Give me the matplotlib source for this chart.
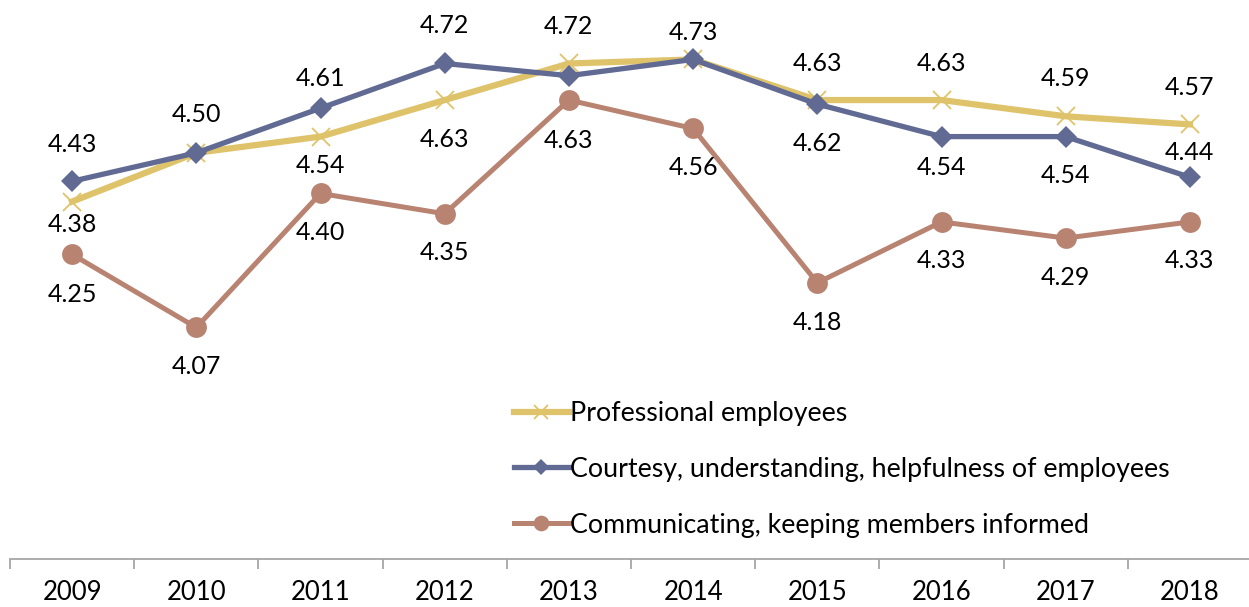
import matplotlib
matplotlib.use("Agg")
import matplotlib.pyplot as plt

plt.rcParams["font.family"] = ["Lato", "DejaVu Sans"]

years = ["2009", "2010", "2011", "2012", "2013", "2014", "2015", "2016", "2017", "2018"]
professional = [4.38, 4.50, 4.54, 4.63, 4.72, 4.73, 4.63, 4.63, 4.59, 4.57]
courtesy = [4.43, 4.50, 4.61, 4.72, 4.69, 4.73, 4.62, 4.54, 4.54, 4.44]
communicating = [4.25, 4.07, 4.40, 4.35, 4.63, 4.56, 4.18, 4.33, 4.29, 4.33]

names = [
    "Professional employees",
    "Courtesy, understanding, helpfulness of employees",
    "Communicating, keeping members informed",
]

# label offsets in pixels (None = no label drawn)
prof_off = [-23, None, -29, -39, 37, 27, 37, 37, 38, 37]
court_off = [37, 38, 30, 38, None, None, -39, -31, -39, 25]
comm_off = [-40, -39, -39, -39, -40, -39, -40, -39, -39, -39]

fig = plt.figure(figsize=(12.49, 6.07), dpi=100)
ax = fig.add_axes([10 / 1249, 48 / 607, 1242 / 1249, 559 / 607])

x = list(range(len(years)))

series = [
    (professional, names[0], "#DFC36A", "x", 4.5, 13, prof_off),
    (courtesy, names[1], "#606A92", "D", 3.8, 11.5, court_off),
    (communicating, names[2], "#B98372", "o", 3.6, 15, comm_off),
]

handles = []
for vals, name, col, mk, lw, ms, offs in series:
    mew = 1.3 if mk == "x" else 0
    (h,) = ax.plot(x, vals, color=col, lw=lw, marker=mk, ms=ms,
                   mec=col, mfc=col, mew=mew, label=name,
                   solid_joinstyle="round", clip_on=False)
    handles.append(h)
    for xi, v, o in zip(x, vals, offs):
        if o is None:
            continue
        ax.annotate(f"{v:.2f}", (xi, v), xytext=(0, o),
                    textcoords="offset pixels", ha="center", va="center",
                    fontsize=18, color="black")

ax.set_xlim(-0.5, 9.5)
ax.set_ylim(3.5, 3.5 + 559 / 406.15)

for s in ["top", "right", "left"]:
    ax.spines[s].set_visible(False)
ax.spines["bottom"].set_color("#A6A6A6")
ax.spines["bottom"].set_linewidth(1.3)
ax.set_yticks([])

ax.set_xticks([i + 0.5 for i in range(-1, 10)], minor=False)
ax.set_xticklabels([])
ax.tick_params(axis="x", which="major", length=7, width=1.3, color="#A6A6A6")
ax.set_xticks(x, minor=True)
ax.set_xticklabels(years, minor=True, fontsize=18.5)
ax.tick_params(axis="x", which="minor", length=0, pad=15)

ax.legend(handles=handles, loc="upper left", bbox_to_anchor=(0.397, 0.302),
          frameon=False, fontsize=19.3, handlelength=2.05, handletextpad=0.05,
          labelspacing=1.15, borderaxespad=0, markerscale=0.75)

fig.savefig("out.png", dpi=100)
